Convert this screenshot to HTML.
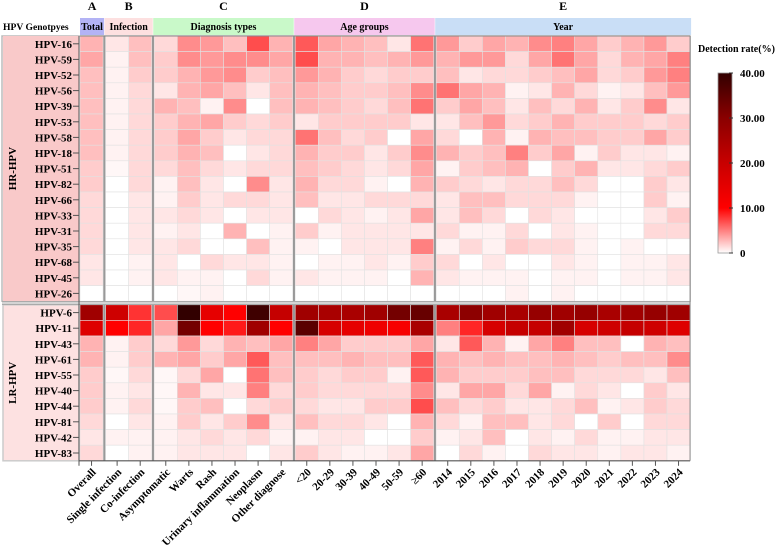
<!DOCTYPE html>
<html><head><meta charset="utf-8">
<style>
html,body{margin:0;padding:0;background:#fff;}
svg{display:block;font-family:"Liberation Serif",serif;font-weight:bold;}
</style></head>
<body>
<svg id="chart" width="778" height="547" viewBox="0 0 778 547" xmlns="http://www.w3.org/2000/svg"></svg>
<script>
const hrRows = ["HPV-16","HPV-59","HPV-52","HPV-56","HPV-39","HPV-53","HPV-58","HPV-18","HPV-51","HPV-82","HPV-66","HPV-33","HPV-31","HPV-35","HPV-68","HPV-45","HPV-26"];
const lrRows = ["HPV-6","HPV-11","HPV-43","HPV-61","HPV-55","HPV-40","HPV-44","HPV-81","HPV-42","HPV-83"];
const columns = ["Overall","Single infection","Co-infection","Asymptomatic","Warts","Rash","Urinary inflammation","Neoplasm","Other diagnose","<20","20-29","30-39","40-49","50-59","≥60","2014","2015","2016","2017","2018","2019","2020","2021","2022","2023","2024"];
const groupNames = ["Total","Infection","Diagnosis  types","Age groups","Year"];
const groupLetters = ["A","B","C","D","E"];
const groupSizes = [1,2,6,6,11];
const colorTicks = [0,10,20,30,40];
const colorTickLabels = ["0","10.00","20.00","30.00","40.00"];
const hrValues = [
[3,1,2.5,1.5,4.5,4,2.5,7,3,6.5,3.5,3,2.5,1,5.5,4,2,3.5,3,4.5,5,3.5,2,3,4,2],
[3.5,.5,2.5,2,4.5,4,4.5,4.5,3.5,7,3,3,2.5,3,4,3,4,4,1.5,3.5,5.5,3.5,1.5,3,3.5,5],
[2.5,.5,2,2,3,4,4.5,2,2.5,4,3,2,1.5,2,2,2.5,1,1.5,1.5,2,2.5,3.5,1.5,2,4,5],
[2.5,.5,1.5,1,3,3.5,2.5,1,2.5,3,2.5,2,2,2.5,4.5,5.5,3.5,3,.5,1,3,1.5,.5,1,2.5,4],
[2.5,.5,1.5,3,2.5,.5,4.5,0,2.5,3,2.5,2,1.5,2.5,5.5,2,3.5,2.5,1,2.5,1.5,3,1,2,4.5,1],
[2.5,.5,1.5,2,3,3.5,2,1.5,2,1,2,2,2,2,1,1,2.5,4,1.5,2,3,2,2,2,1.5,2],
[2.5,.5,1.5,2,3.5,2,1,1.5,1.5,5.5,2.5,1.5,2,0,3.5,1.5,0,3,.5,3,2.5,2.5,2,2,3.5,2],
[2.5,.5,1.5,2,3,2.5,0,1,1.5,3,2,2,1,2,4.5,3,2,2.5,5,2,3.5,.5,2,1,1,.5],
[2,.3,1.5,1.5,2.5,1.5,1,1.5,1.5,2.5,2,1.5,1,1.5,3.5,.5,2,2.5,3,0,2,3,1,1,1.5,2],
[2,0,1.5,.5,2.5,1,0,4.5,1,3,1.5,1.5,.5,0,3,2,1.5,1,1.5,1.5,2.5,1.5,0,0,2,1],
[1.5,0,1,.5,2,1,1.5,1.5,1,2.5,1,1,1.5,1.5,1.5,1,2.5,2.5,1.5,1.5,1.5,.5,0,0,2,.5],
[1.5,0,1,1,1.5,1,0,1,1,0,1.5,1,.5,1,3.5,1,2.5,1.5,0,1.5,1,0,0,0,1,2],
[1.5,0,1,.5,1,0,3,0,.5,2,.5,1,1,1,1,1.5,.5,.5,1.5,0,1,.5,0,0,1.5,1.5],
[1.5,0,1,1,1.5,0,0,2.5,.5,.5,0,1,1,1,5,.5,1.5,.5,2,1.5,1.5,.5,0,.5,0,0],
[1,0,.5,1,0,1.5,1,1,.5,0,.5,.5,1,.5,2,1.5,0,1,0,0,1,.5,0,.5,.5,1],
[1,0,.5,1,.5,.5,0,1.5,.5,1,.5,.5,.5,0,3,1,.5,.5,.5,0,.5,.5,0,.5,.5,1],
[0,0,0,0,.3,.5,0,0,0,0,0,0,0,0,0,0,0,0,.5,0,.5,0,0,0,0,0]
];
const lrValues = [
[26.5,19,8,7,40,14.5,10,38.5,20.5,26.5,25,25,26.5,32.5,34,25,29.5,26.5,25,28,26.5,28,25,26.5,28,26.5],
[16,10,8.5,3.5,32.5,10,9,26.5,10,35.5,17.5,14.5,13,11.5,25,5,8.5,17.5,20.5,20.5,26.5,17.5,19,20.5,19,16],
[3,.5,2,1.5,4,1.5,3,2.5,3.5,5,3.5,2,2,2,3.5,1,6.5,3,.5,3.5,5,2.5,2.5,0,3,2.5],
[3,.5,2,3,3.5,2,3.5,6.5,2.5,2.5,2.5,3,2.5,2.5,6.5,3,2.5,3,2.5,2.5,3,2.5,2,2.5,2.5,4.5],
[2,.3,1.5,.3,1.5,3.5,0,5.5,2.5,2,1.5,2,2,.5,6.5,3,2,2,2,2.5,2.5,1.5,1.5,1.5,1,2.5],
[2,.5,1,.3,3,1,1,5,1.5,2,1.5,1.5,1.5,1.5,4.5,1,3.5,3.5,1.5,3.5,.5,1.5,1,0,2,1],
[2,.5,1.5,.3,2,2.5,0,1.5,2,1.5,1,1,2,2,7,2.5,1.5,2,1,1,1.5,2.5,.5,1,2,1.5],
[1.5,0,1,.5,2,1,2,4.5,1,2.5,1.5,1.5,1,0,3,1.5,.5,2.5,2.5,1,1.5,0,2,0,1.5,1.5],
[1,.5,.5,.5,1,1.5,1,1.5,.5,.5,1,1,0,0,2,.5,1,2.5,0,1,.5,1.5,.5,.5,1,1],
[1.5,0,.5,.5,1,1,1,0,1,2,1,.5,.5,1,3.5,0,1.5,.5,0,1.5,1,1,.5,1,1,.5]
];

const NS="http://www.w3.org/2000/svg";
const svg=document.getElementById('chart');
function mk(tag,attrs,parent){const e=document.createElementNS(NS,tag);for(const k in attrs)e.setAttribute(k,attrs[k]);(parent||svg).appendChild(e);return e;}

const stops=[[0,[255,255,255]],[10,[255,0,0]],[20,[200,0,0]],[30,[138,0,0]],[40,[50,0,0]]];
function color(v){v=Math.max(0,Math.min(40,v));for(let i=1;i<stops.length;i++){if(v<=stops[i][0]){const a=stops[i-1],b=stops[i];const t=(v-a[0])/(b[0]-a[0]);const c=a[1].map((x,j)=>Math.round(x+(b[1][j]-x)*t));return `rgb(${c[0]},${c[1]},${c[2]})`;}}return 'rgb(50,0,0)';}

const X0=80, CW=23.08, GAP=2.5;
function groupOf(ci){let s=0;for(let g=0;g<groupSizes.length;g++){s+=groupSizes[g];if(ci<s)return g;}return groupSizes.length-1;}
function xOf(ci){return X0+ci*CW+groupOf(ci)*GAP;}
const RH=15.6, HR_TOP=36, LR_TOP=304.8;
function yHR(r){return HR_TOP+r*RH;}
function yLR(r){return LR_TOP+r*RH;}
const HR_BOT=yHR(hrRows.length), LR_BOT=yLR(lrRows.length);
const XEND=xOf(columns.length-1)+CW;

const hrBox=mk('rect',{x:2,y:HR_TOP,width:XEND-2,height:HR_BOT-HR_TOP,fill:'none',stroke:'#bbb','stroke-width':1.5});


const hrFill=mk('rect',{x:3,y:HR_TOP,width:76,height:HR_BOT-HR_TOP,fill:'#f9c9c9'});


const lrFill=mk('rect',{x:3,y:LR_TOP,width:76,height:LR_BOT-LR_TOP,fill:'#fde1e1',stroke:'#ccc','stroke-width':1.5});


const hrT=mk('text',{x:0,y:0,transform:`translate(16,${(HR_TOP+HR_BOT)/2}) rotate(-90)`,'text-anchor':'middle','font-size':11});
hrT.textContent='HR-HPV';


const lrT=mk('text',{x:0,y:0,transform:`translate(16,${(LR_TOP+LR_BOT)/2}) rotate(-90)`,'text-anchor':'middle','font-size':11});
lrT.textContent='LR-HPV';



const hdrFills=['#b3b3f5','#fde0e0','#c9f9c9','#f6c8ee','#c9def6'];
let ci0=0;
for(let g=0;g<groupSizes.length;g++){
  const x1=xOf(ci0)-(g===0?0:1), x2=xOf(ci0+groupSizes[g]-1)+CW+1;
  const r=mk('rect',{x:x1,y:18,width:x2-x1,height:17,fill:hdrFills[g]});
  
  
  const t=mk('text',{x:(x1+x2)/2,y:30,'text-anchor':'middle','font-size':10,'xml:space':'preserve'});
  t.textContent=groupNames[g];
  
  
  const l=mk('text',{x:(x1+x2)/2,y:10,'text-anchor':'middle','font-size':12});
  l.textContent=groupLetters[g];
  
  
  ci0+=groupSizes[g];
}
const gt=mk('text',{x:3,y:30,'font-size':9.6});
gt.textContent='HPV Genotpyes';



function drawRows(rows,vals,yf){
  rows.forEach((name,r)=>{
    const y=yf(r);
    vals[r].forEach((v,c)=>{
      const rc=mk('rect',{x:xOf(c),y:y,width:CW,height:RH,fill:color(v),stroke:'#e2e2e2','stroke-width':0.6});
      
      
    });
    const lb=mk('text',{x:72,y:y+RH/2+4,'text-anchor':'end','font-size':11});
    lb.textContent=name;
    
    
    mk('line',{x1:73,x2:79,y1:y+RH/2,y2:y+RH/2,stroke:'#555','stroke-width':1});
  });
}
drawRows(hrRows,hrValues,yHR);
drawRows(lrRows,lrValues,yLR);

ci0=0;
for(let g=0;g<groupSizes.length-1;g++){
  ci0+=groupSizes[g];
  const sx=xOf(ci0)-GAP/2;
  mk('line',{x1:sx,x2:sx,y1:HR_TOP,y2:LR_BOT,stroke:'#999','stroke-width':2});
}
mk('rect',{x:X0,y:HR_BOT,width:XEND-X0,height:LR_TOP-HR_BOT,fill:'#fff'});
mk('line',{x1:2,x2:XEND,y1:HR_BOT+0.5,y2:HR_BOT+0.5,stroke:'#aaa','stroke-width':1.5});
mk('line',{x1:2,x2:XEND,y1:LR_TOP-0.5,y2:LR_TOP-0.5,stroke:'#aaa','stroke-width':1.5});
mk('line',{x1:X0-1,x2:X0-1,y1:HR_TOP,y2:LR_BOT+5,stroke:'#555','stroke-width':1});
mk('line',{x1:X0-1,x2:XEND,y1:LR_BOT,y2:LR_BOT,stroke:'#555','stroke-width':1.2});
mk('line',{x1:XEND,x2:XEND,y1:HR_TOP,y2:LR_BOT,stroke:'#888','stroke-width':1});
mk('line',{x1:X0,x2:XEND,y1:HR_TOP,y2:HR_TOP,stroke:'#888','stroke-width':1});

columns.forEach((c,i)=>{
  const cx=xOf(i)+CW/2;
  mk('line',{x1:cx,x2:cx,y1:LR_BOT,y2:LR_BOT+5,stroke:'#555','stroke-width':1});
  const t=mk('text',{x:0,y:0,transform:`translate(${cx+5},${LR_BOT+12}) rotate(-45)`,'text-anchor':'end','font-size':11});
  t.textContent=c;
  
  
});

const defs=mk('defs',{});
const grad=mk('linearGradient',{id:'cb',x1:0,y1:1,x2:0,y2:0},defs);
stops.forEach(s=>{mk('stop',{offset:(s[0]/40*100)+'%','stop-color':`rgb(${s[1].join(',')})`},grad);});
const CB_TOP=73, CB_BOT=253;
function yCB(v){return CB_BOT-(v/40)*(CB_BOT-CB_TOP);}
const cb=mk('rect',{x:718,y:CB_TOP,width:14,height:CB_BOT-CB_TOP,fill:'url(#cb)',stroke:'#999','stroke-width':0.8});


colorTicks.forEach((v,i)=>{
  const y=yCB(v);
  mk('line',{x1:729,x2:733,y1:y,y2:y,stroke:'#333','stroke-width':1});
  const t=mk('text',{x:740,y:y+4,'font-size':11});
  t.textContent=colorTickLabels[i];
  
  
});
const ct=mk('text',{x:698,y:52,'font-size':10});
ct.textContent='Detection rate(%)';


</script>
</body></html>
